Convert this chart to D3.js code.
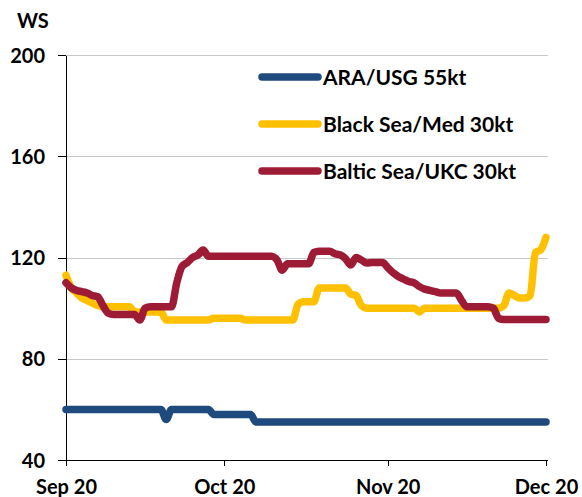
<!DOCTYPE html>
<html lang="en">
    <head>
        <meta charset="utf-8">
        <title>WS rates</title>
        <script type="text/javascript" src="https://cdn.jsdelivr.net/npm/d3@7/dist/d3.min.js"></script>
        <style type="text/css">
        body {
            margin: 0;
            background: #fff;
        }
        text {
            font-family: Lato, sans-serif;
            font-weight: bold;
            fill: #000;
        }
        .grid line {
            stroke: #c8c8c8;
            stroke-width: 1;
        }
        .axis path,
        .axis line {
            fill: none;
            stroke: black;
            shape-rendering: crispEdges;
        }
        .axis text {
            font-size: 20px;
        }
        .series {
            fill: none;
            stroke-width: 7.5;
            stroke-linejoin: round;
            stroke-linecap: round;
        }
        </style>
    </head>
    <body>
        <script>
                // one value per day, 1 Sep 2020 .. 1 Dec 2020
                var startDay = new Date(2020, 8, 1);
                var endDay = new Date(2020, 11, 1);

                var araUsg = [
                  60, 60, 60, 60, 60, 60, 60, 60, 60, 60, 60, 60, 60, 60, 60, 60, 60, 60, 60,
                  56,
                  60, 60, 60, 60, 60, 60, 60, 60,
                  58, 58, 58, 58, 58, 58, 58, 58,
                  55, 55, 55, 55, 55, 55, 55, 55, 55, 55, 55, 55, 55, 55, 55, 55, 55, 55, 55, 55,
                  55, 55, 55, 55, 55, 55, 55, 55, 55, 55, 55, 55, 55, 55, 55, 55, 55, 55, 55, 55,
                  55, 55, 55, 55, 55, 55, 55, 55, 55, 55, 55, 55, 55, 55, 55, 55
                ];

                var blackSeaMed = [
                  113, 108, 106, 104, 103, 102, 101,
                  100.5, 100.5, 100.5, 100.5, 100.5, 100.5,
                  98.5, 98.5, 98.5, 98.5, 98.5, 98.5,
                  95.3, 95.3, 95.3, 95.3, 95.3, 95.3, 95.3, 95.3, 95.3,
                  96, 96, 96, 96, 96, 96,
                  95.3, 95.3, 95.3, 95.3, 95.3, 95.3, 95.3, 95.3, 95.3, 95.3,
                  101.5, 102.5, 102.5, 102.5,
                  108, 108, 108, 108, 108, 108,
                  105.5, 105, 101,
                  100, 100, 100, 100, 100, 100, 100, 100, 100, 100,
                  98.5,
                  100, 100, 100, 100, 100, 100, 100, 100, 100, 100, 100, 100, 100, 100, 100,
                  101, 106, 105, 104, 104, 105, 122, 123, 128
                ];

                var balticUkc = [
                  110, 108, 107, 106.5, 106, 105, 104.5, 101, 98,
                  97.5, 97.5, 97.5, 97.5, 97.5,
                  95.3, 100,
                  100.5, 100.5, 100.5, 100.5, 100.5,
                  110, 116.5, 118, 120, 121, 123, 120.5,
                  120.5, 120.5, 120.5, 120.5, 120.5, 120.5, 120.5, 120.5, 120.5, 120.5, 120.5, 120.5,
                  119, 115, 117.5,
                  117.5, 117.5, 117.5, 117.5,
                  122,
                  122.5, 122.5, 122.5,
                  121.5, 121, 119.5, 117, 120, 119, 117.8,
                  118, 118, 118,
                  116, 114, 112.5, 111.5, 110.5, 110, 108.5, 107.5, 107, 106.5,
                  106, 106, 106, 106,
                  103, 100.5,
                  100.5, 100.5, 100.5, 100.5,
                  100, 96,
                  95.5, 95.5, 95.5, 95.5, 95.5, 95.5, 95.5, 95.5, 95.5
                ];

                var seriesNames = ["ARA/USG 55kt", "Black Sea/Med 30kt", "Baltic Sea/UKC 30kt"];
                var seriesColors = ["#1f4a7e", "#ffc000", "#9e1b36"];
                var seriesValues = [araUsg, blackSeaMed, balticUkc];

                var yTicks = [40, 80, 120, 160, 200];
                var xTicks = [new Date(2020, 8, 1), new Date(2020, 9, 1), new Date(2020, 10, 1), new Date(2020, 11, 1)];
                var xTickLabels = ["Sep 20", "Oct 20", "Nov 20", "Dec 20"];

                var w = 582;
                var h = 497;
                var padL = 66, padR = 546, padT = 55, padB = 460;

                var days = d3.timeDay.range(startDay, d3.timeDay.offset(endDay, 1));

                var xScale = d3.scaleTime()
                  .domain([startDay, endDay])
                  .range([padL, padR]);

                var yScale = d3.scaleLinear()
                  .domain([40, 200])
                  .range([padB, padT]);

                var svg = d3.select("body")
                  .append("svg")
                  .attr("width", w)
                  .attr("height", h);

                // gridlines
                svg.append("g")
                  .attr("class", "grid")
                  .selectAll("line")
                  .data(yTicks.slice(1))
                  .enter().append("line")
                  .attr("x1", padL)
                  .attr("x2", padR + 2)
                  .attr("y1", function(d) { return Math.round(yScale(d)) + 0.5; })
                  .attr("y2", function(d) { return Math.round(yScale(d)) + 0.5; });

                svg.append("g")
                  .attr("class", "axis")
                  .attr("transform", "translate(" + padL + ",0)")
                  .call(d3.axisLeft(yScale).tickValues(yTicks).tickSize(8).tickPadding(13).tickSizeOuter(0))
                  .selectAll("text")
                  .attr("dy", "0.36em");

                var xAxis = svg.append("g")
                  .attr("class", "axis")
                  .attr("transform", "translate(0," + padB + ")")
                  .call(d3.axisBottom(xScale)
                    .tickValues(xTicks)
                    .tickFormat(function(d, i) { return xTickLabels[i]; })
                    .tickSize(6)
                    .tickPadding(14)
                    .tickSizeOuter(0));
                xAxis.select(".domain").attr("d", "M" + padL + ",0.5H" + (padR + 2));
                xAxis.selectAll("text").attr("dy", "0.71em");

                var line = d3.line()
                  .x(function(d, i) { return xScale(days[i]); })
                  .y(function(d) { return yScale(d); })
                  .curve(d3.curveMonotoneX);

                svg.selectAll(".series")
                  .data(seriesValues)
                  .enter().append("path")
                  .attr("class", "series")
                  .attr("stroke", function(d, i) { return seriesColors[i]; })
                  .attr("d", line);

                // legend
                var legend = svg.selectAll(".legend")
                  .data(seriesNames)
                  .enter().append("g")
                  .attr("class", "legend")
                  .attr("transform", function(d, i) { return "translate(262," + (77 + i * 47) + ")"; });

                legend.append("line")
                  .attr("x1", 0)
                  .attr("x2", 56)
                  .attr("stroke", function(d, i) { return seriesColors[i]; })
                  .attr("stroke-width", 7.5)
                  .attr("stroke-linecap", "round");

                legend.append("text")
                  .text(function(d) { return d; })
                  .attr("x", 61)
                  .attr("dy", "0.36em")
                  .style("font-size", "21px");

                svg.append("text")
                  .text("WS")
                  .attr("x", 17)
                  .attr("y", 28)
                  .style("font-size", "20px");
            </script>
    </body>
</html>
